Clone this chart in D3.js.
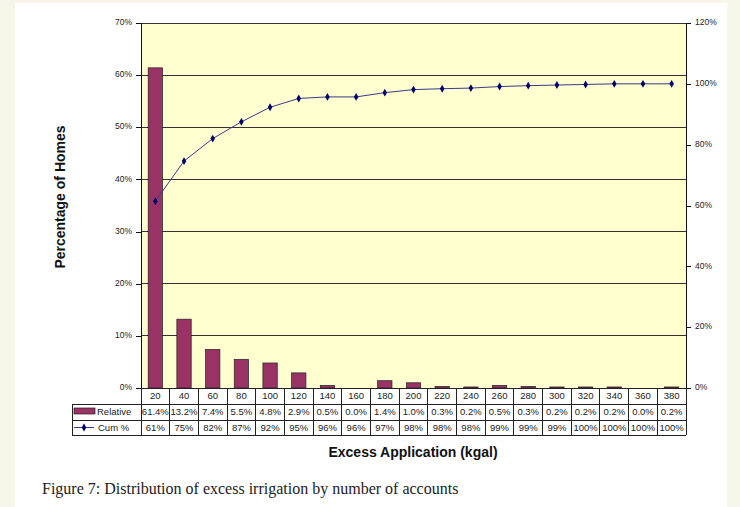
<!DOCTYPE html>
<html><head><meta charset="utf-8">
<script src="https://cdn.jsdelivr.net/npm/d3@7/dist/d3.min.js"></script>
<style>body{margin:0;background:#f7f7e9;}svg{display:block;}</style>
</head><body>
<svg id="c" width="740" height="507"></svg>
<script>
const categories = ["20","40","60","80","100","120","140","160","180","200","220","240","260","280","300","320","340","360","380"];
const relative = [61.4,13.2,7.4,5.5,4.8,2.9,0.5,0.0,1.4,1.0,0.3,0.2,0.5,0.3,0.2,0.2,0.2,0.0,0.2];
const cumulative = [61.4,74.6,82.0,87.5,92.3,95.2,95.7,95.7,97.1,98.1,98.4,98.6,99.1,99.4,99.6,99.8,100.0,100.0,100.0];
const relLabels = ["61.4%","13.2%","7.4%","5.5%","4.8%","2.9%","0.5%","0.0%","1.4%","1.0%","0.3%","0.2%","0.5%","0.3%","0.2%","0.2%","0.2%","0.0%","0.2%"];
const cumLabels = ["61%","75%","82%","87%","92%","95%","96%","96%","97%","98%","98%","98%","99%","99%","99%","100%","100%","100%","100%"];
const leftTicks = [0,10,20,30,40,50,60,70];
const rightTicks = [0,20,40,60,80,100,120];

const svg = d3.select("#c");
const X0=141, X1=686, Y0=23, Y1=388;
const font = "'Liberation Sans', Arial, sans-serif";

svg.append("rect").attr("x",15).attr("y",3).attr("width",712).attr("height",504).attr("fill","#ffffff");

const x = d3.scaleBand().domain(categories).range([X0,X1]).paddingInner(0.5).paddingOuter(0.25);
const xc = d3.scaleBand().domain(categories).range([X0,X1]);
const yL = d3.scaleLinear().domain([0,70]).range([Y1,Y0]);
const yR = d3.scaleLinear().domain([0,120]).range([Y1,Y0]);

// plot area
svg.append("rect").attr("x",X0).attr("y",Y0).attr("width",X1-X0).attr("height",Y1-Y0).attr("fill","#ffffd0");
// gridlines
svg.append("g").selectAll("line").data(leftTicks.filter(d=>d>0)).join("line")
  .attr("x1",X0).attr("x2",X1).attr("y1",d=>yL(d)).attr("y2",d=>yL(d))
  .attr("stroke","#333").attr("stroke-width",1).attr("shape-rendering","crispEdges");

// bars
svg.append("g").selectAll("rect").data(relative).join("rect")
  .attr("x",(d,i)=>x(categories[i]))
  .attr("width",x.bandwidth())
  .attr("y",d=>yL(d))
  .attr("height",d=>Y1-yL(d))
  .attr("fill","#993366").attr("stroke","#222").attr("stroke-width",0.7)
  .attr("display",d=>d>0?null:"none");

// cumulative line
const line = d3.line().x((d,i)=>xc(categories[i])+xc.bandwidth()/2).y(d=>yR(d));
svg.append("path").datum(cumulative).attr("d",line).attr("fill","none").attr("stroke","#3a3a8c").attr("stroke-width",1);
const diamond = d3.symbol().type(d3.symbolDiamond).size(18);
svg.append("g").selectAll("path").data(cumulative).join("path")
  .attr("d",diamond)
  .attr("transform",(d,i)=>`translate(${xc(categories[i])+xc.bandwidth()/2},${yR(d)})`)
  .attr("fill","#000066");

// axes
const axL = d3.axisLeft(yL).tickValues(leftTicks).tickFormat(d=>d+"%").tickSize(5).tickPadding(4);
const gL = svg.append("g").attr("transform",`translate(${X0},0)`).call(axL);
const axR = d3.axisRight(yR).tickValues(rightTicks).tickFormat(d=>d+"%").tickSize(5).tickPadding(4);
const gR = svg.append("g").attr("transform",`translate(${X1},0)`).call(axR);
[gL,gR].forEach(g=>{
  g.selectAll("text").attr("font-family",font).attr("font-size",8.5).attr("fill","#222");
  g.selectAll("line,path").attr("stroke","#111").attr("shape-rendering","crispEdges");
  g.select(".domain").attr("d", `M0,${Y0}V${Y1}`);
});
gL.selectAll("text").attr("dy","0.2em");
gR.selectAll("text").attr("dy","0.2em");

// data table
const r0=Y1, r1=404, r2=420, r3=435, LX=72;
const tg = svg.append("g").attr("stroke","#222").attr("stroke-width",1).attr("shape-rendering","crispEdges");
tg.append("line").attr("x1",X0).attr("x2",X1).attr("y1",r0).attr("y2",r0);
[r1,r2,r3].forEach(y=>tg.append("line").attr("x1",LX).attr("x2",X1).attr("y1",y).attr("y2",y));
tg.append("line").attr("x1",LX).attr("x2",LX).attr("y1",r1).attr("y2",r3);
tg.selectAll(".v").data(categories.concat(["end"])).join("line").attr("class","v")
  .attr("x1",(d,i)=>i<categories.length?xc(d):X1).attr("x2",(d,i)=>i<categories.length?xc(d):X1)
  .attr("y1",r0).attr("y2",r3);

const cellX = (i)=>xc(categories[i])+xc.bandwidth()/2;
const rows = [[categories,(r0+r1)/2],[relLabels,(r1+r2)/2],[cumLabels,(r2+r3)/2]];
rows.forEach(([labels,yy])=>{
  svg.append("g").selectAll("text").data(labels).join("text")
    .attr("x",(d,i)=>cellX(i)).attr("y",yy).attr("dy","0.35em")
    .attr("text-anchor","middle").attr("font-family",font).attr("font-size",9.5).attr("fill","#222")
    .text(d=>d);
});
// legend keys
svg.append("rect").attr("x",74).attr("y",408).attr("width",21).attr("height",6).attr("fill","#993366").attr("stroke","#222").attr("stroke-width",0.7);
svg.append("text").attr("x",97).attr("y",(r1+r2)/2).attr("dy","0.35em").attr("font-family",font).attr("font-size",9.5).attr("fill","#222").text("Relative");
svg.append("line").attr("x1",74).attr("x2",94).attr("y1",(r2+r3)/2).attr("y2",(r2+r3)/2).attr("stroke","#3a3a8c");
svg.append("path").attr("d",diamond).attr("transform",`translate(84,${(r2+r3)/2})`).attr("fill","#000066");
svg.append("text").attr("x",98).attr("y",(r2+r3)/2).attr("dy","0.35em").attr("font-family",font).attr("font-size",9.5).attr("fill","#222").text("Cum %");

// titles
svg.append("text").attr("transform","translate(65,197) rotate(-90)").attr("text-anchor","middle")
  .attr("font-family",font).attr("font-weight","bold").attr("font-size",14).attr("fill","#111").text("Percentage of Homes");
svg.append("text").attr("x",413).attr("y",457).attr("text-anchor","middle")
  .attr("font-family",font).attr("font-weight","bold").attr("font-size",14).attr("fill","#111").text("Excess Application (kgal)");
svg.append("text").attr("x",42).attr("y",494)
  .attr("font-family","'Liberation Serif', 'Times New Roman', serif").attr("font-size",16).attr("fill","#222")
  .text("Figure 7: Distribution of excess irrigation by number of accounts");
</script>
</body></html>
